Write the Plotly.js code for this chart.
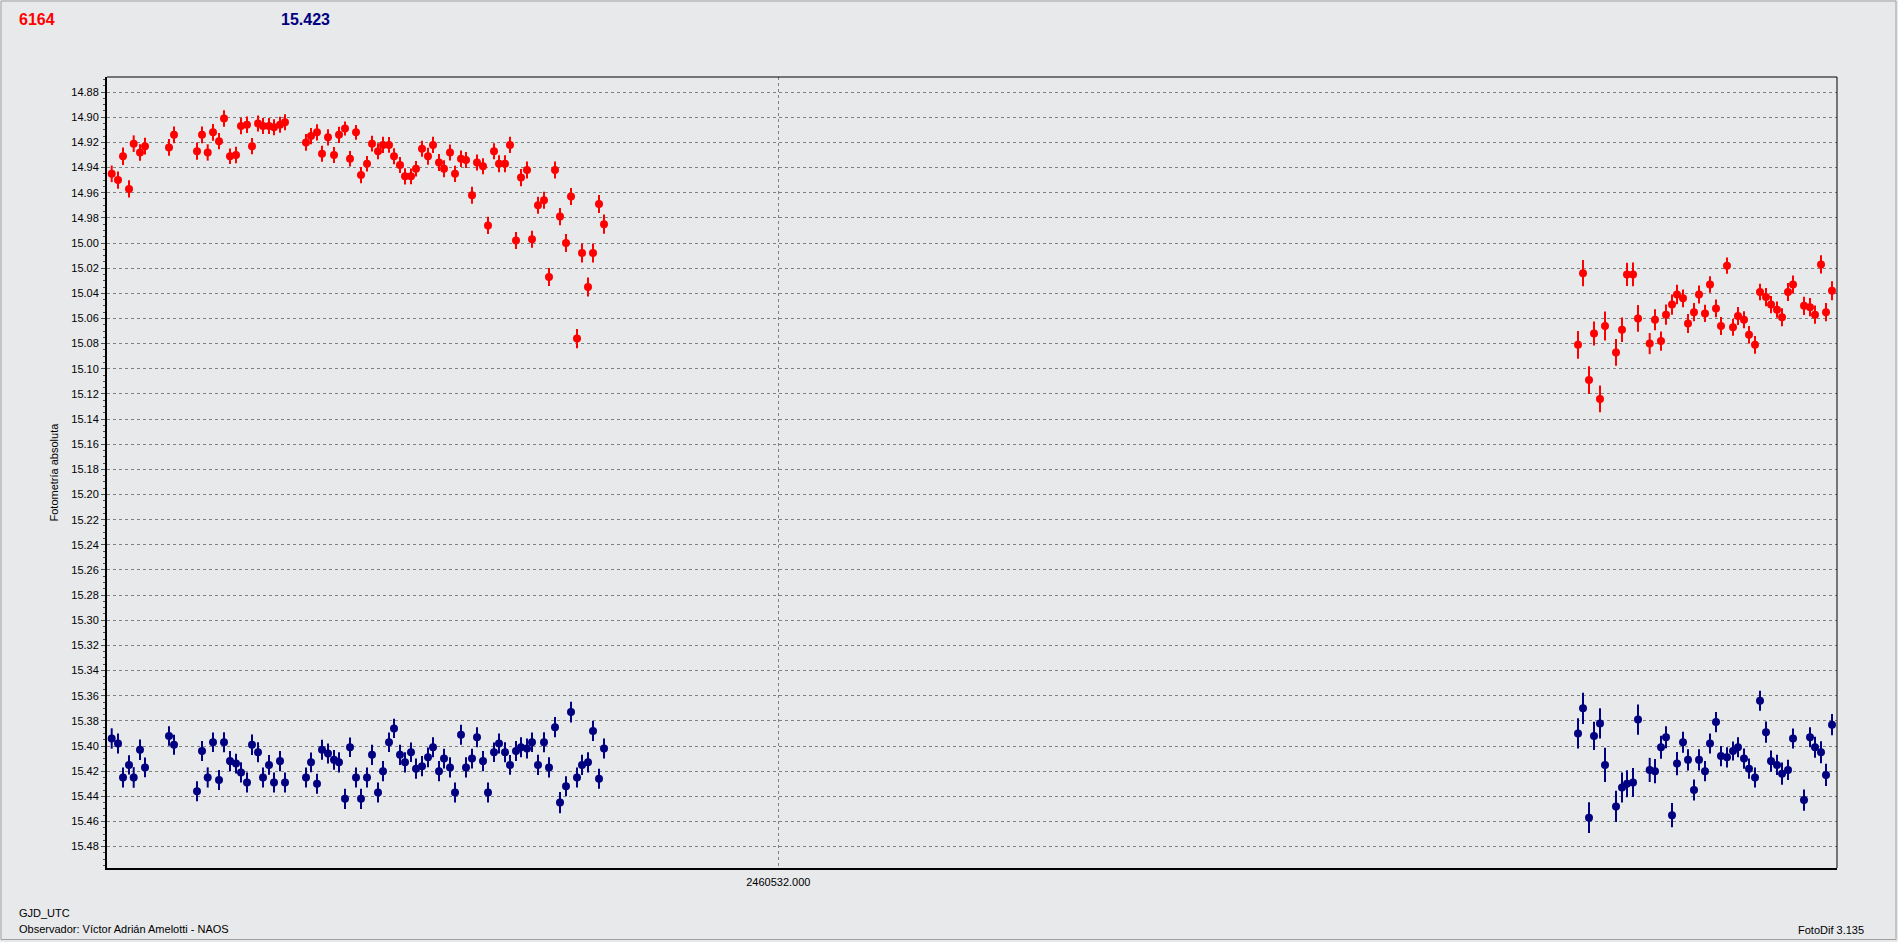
<!DOCTYPE html>
<html>
<head>
<meta charset="utf-8">
<script src="https://cdn.plot.ly/plotly-3.0.1.min.js"></script>
<style>
html,body{margin:0;padding:0;background:#e8e9eb;}
#chart{width:1898px;height:942px;}
</style>
</head>
<body>
<div id="chart"></div>
<script>
// ---- Data (GJD_UTC offsets in days from GJD0, magnitudes) ----
const GJD0 = 2460532.000;

const tNight1 = [-0.13332,-0.13206,-0.13106,-0.12986,-0.12892,-0.12766,-0.12666,-0.12186,-0.12086,-0.11626,
-0.11526,-0.11412,-0.11306,-0.11186,-0.11086,-0.10966,-0.10846,-0.10746,-0.10626,-0.10526,
-0.10406,-0.10306,-0.10186,-0.10086,-0.09966,-0.09866,-0.09446,-0.09346,-0.09226,-0.09126,
-0.09006,-0.08886,-0.08786,-0.08666,-0.08566,-0.08446,-0.08346,-0.08226,-0.08126,-0.08006,
-0.07906,-0.07786,-0.07686,-0.07566,-0.07466,-0.07346,-0.07246,-0.07126,-0.07006,-0.06906,
-0.06786,-0.06686,-0.06566,-0.06466,-0.06346,-0.06246,-0.06126,-0.06026,-0.05906,-0.05806,
-0.05686,-0.05586,-0.05466,-0.05366,-0.05246,-0.05146,-0.05026,-0.04926,-0.04806,-0.04686,
-0.04586,-0.04466,-0.04366,-0.04246,-0.04146,-0.04026,-0.03926,-0.03806,-0.03706,-0.03586,-0.03486];

const tNight2 = [0.15994,0.16094,0.16214,0.16314,0.16434,0.16534,0.16754,0.16874,0.16974,0.17094,
0.17194,0.17428,0.17534,0.17654,0.17754,0.17874,0.17974,0.18094,0.18194,0.18314,
0.18414,0.18534,0.18634,0.18754,0.18854,0.18974,0.19094,0.19194,0.19314,0.19414,
0.19534,0.19634,0.19754,0.19854,0.19974,0.20074,0.20194,0.20294,0.20514,0.20634,
0.20734,0.20854,0.20954,0.21074];

// Variable star (red)
const magVar1 = [14.945,14.950,14.931,14.957,14.921,14.928,14.923,14.924,14.914,14.927,
14.914,14.928,14.912,14.919,14.901,14.931,14.930,14.907,14.906,14.923,
14.905,14.907,14.907,14.908,14.906,14.904,14.920,14.915,14.912,14.929,
14.916,14.930,14.914,14.909,14.933,14.912,14.946,14.937,14.921,14.927,
14.922,14.922,14.931,14.938,14.947,14.947,14.941,14.925,14.931,14.922,
14.936,14.941,14.928,14.945,14.933,14.934,14.962,14.936,14.939,14.986,
14.927,14.937,14.937,14.922,14.998,14.948,14.942,14.997,14.970,14.966,
15.027,14.942,14.979,15.000,14.963,15.076,15.008,15.035,15.008,14.969,14.985];

const magVar2 = [15.081,15.024,15.109,15.072,15.124,15.066,15.087,15.069,15.025,15.025,
15.060,15.080,15.061,15.078,15.057,15.049,15.041,15.044,15.064,15.055,
15.041,15.056,15.033,15.052,15.066,15.018,15.067,15.058,15.061,15.073,
15.081,15.039,15.043,15.049,15.053,15.059,15.039,15.033,15.050,15.051,
15.057,15.017,15.055,15.038];

const errVar1 = [0.0066,0.0069,0.0070,0.0068,0.0066,0.0065,0.0066,0.0066,0.0066,0.0069,
0.0066,0.0065,0.0066,0.0064,0.0066,0.0062,0.0066,0.0066,0.0066,0.0064,
0.0064,0.0064,0.0064,0.0064,0.0064,0.0064,0.0066,0.0064,0.0064,0.0064,
0.0064,0.0064,0.0064,0.0056,0.0062,0.0058,0.0064,0.0062,0.0062,0.0064,
0.0064,0.0062,0.0064,0.0064,0.0064,0.0062,0.0062,0.0064,0.0068,0.0064,
0.0068,0.0068,0.0064,0.0064,0.0066,0.0064,0.0068,0.0064,0.0064,0.0068,
0.0064,0.0068,0.0068,0.0064,0.0068,0.0068,0.0068,0.0068,0.0068,0.0068,
0.0072,0.0068,0.0068,0.0072,0.0068,0.0076,0.0076,0.0076,0.0076,0.0072,0.0076];

const errVar2 = [0.0110,0.0104,0.0110,0.0096,0.0106,0.0115,0.0106,0.0098,0.0092,0.0094,
0.0106,0.0084,0.0084,0.0076,0.0080,0.0080,0.0078,0.0070,0.0075,0.0072,
0.0072,0.0068,0.0066,0.0070,0.0072,0.0065,0.0068,0.0072,0.0068,0.0070,
0.0070,0.0066,0.0072,0.0068,0.0064,0.0072,0.0072,0.0072,0.0072,0.0072,
0.0072,0.0072,0.0072,0.0076];

// Comparison star (navy)
const magComp1 = [15.394,15.398,15.425,15.415,15.425,15.403,15.417,15.392,15.399,15.436,
15.404,15.425,15.397,15.427,15.397,15.412,15.414,15.421,15.429,15.399,
15.405,15.425,15.415,15.429,15.412,15.429,15.425,15.413,15.430,15.403,
15.406,15.411,15.413,15.442,15.401,15.425,15.442,15.425,15.407,15.437,
15.420,15.397,15.386,15.407,15.413,15.405,15.418,15.416,15.409,15.401,
15.420,15.410,15.417,15.437,15.391,15.417,15.410,15.393,15.412,15.437,
15.405,15.398,15.405,15.415,15.404,15.401,15.402,15.397,15.415,15.397,
15.417,15.385,15.445,15.432,15.373,15.425,15.415,15.413,15.388,15.426,15.402];

const magComp2 = [15.390,15.370,15.457,15.392,15.382,15.415,15.448,15.433,15.430,15.429,
15.379,15.419,15.420,15.401,15.393,15.455,15.414,15.397,15.411,15.435,
15.411,15.420,15.398,15.381,15.408,15.409,15.404,15.401,15.410,15.418,
15.425,15.364,15.389,15.412,15.415,15.422,15.419,15.394,15.443,15.393,
15.401,15.405,15.423,15.383];

const errComp1 = [0.0081,0.0080,0.0080,0.0077,0.0082,0.0082,0.0078,0.0078,0.0080,0.0080,
0.0080,0.0080,0.0078,0.0080,0.0080,0.0080,0.0078,0.0080,0.0080,0.0082,
0.0080,0.0080,0.0078,0.0080,0.0080,0.0080,0.0080,0.0078,0.0080,0.0080,
0.0080,0.0078,0.0080,0.0080,0.0078,0.0080,0.0080,0.0080,0.0080,0.0080,
0.0080,0.0078,0.0076,0.0080,0.0080,0.0078,0.0080,0.0080,0.0078,0.0080,
0.0080,0.0078,0.0080,0.0080,0.0080,0.0080,0.0078,0.0080,0.0080,0.0080,
0.0078,0.0080,0.0080,0.0078,0.0080,0.0080,0.0080,0.0078,0.0080,0.0080,
0.0080,0.0080,0.0084,0.0080,0.0082,0.0080,0.0080,0.0080,0.0080,0.0080,0.0080];

const errComp2 = [0.0120,0.0124,0.0122,0.0112,0.0120,0.0136,0.0124,0.0120,0.0108,0.0116,
0.0120,0.0096,0.0096,0.0092,0.0088,0.0096,0.0092,0.0084,0.0084,0.0084,
0.0084,0.0080,0.0080,0.0080,0.0080,0.0080,0.0076,0.0080,0.0080,0.0080,
0.0080,0.0080,0.0084,0.0084,0.0080,0.0088,0.0080,0.0080,0.0084,0.0080,
0.0084,0.0088,0.0088,0.0084];

const yTickVals = [14.88,14.90,14.92,14.94,14.96,14.98,15.00,15.02,15.04,15.06,15.08,15.10,15.12,15.14,15.16,
15.18,15.20,15.22,15.24,15.26,15.28,15.30,15.32,15.34,15.36,15.38,15.40,15.42,15.44,15.46,15.48];
const xTickVals = [2460532.000];

const headerVar = '6164';
const headerComp = '15.423';
const yTitle = 'Fotometría absoluta';
const xTitle = 'GJD_UTC';
const observer = 'Observador: Víctor Adrián Amelotti - NAOS';
const software = 'FotoDif 3.135';

// ---- Build traces ----
const tAll = tNight1.concat(tNight2).map(t => GJD0 + t);

function series(y, err, color) {
  return {
    type: 'scatter', mode: 'markers',
    x: tAll, y: y,
    marker: {color: color, size: 8, symbol: 'circle', line: {width: 0}},
    error_y: {type: 'data', array: err, visible: true, color: color, thickness: 2, width: 0},
    showlegend: false, hoverinfo: 'x+y'
  };
}

const traces = [
  series(magVar1.concat(magVar2), errVar1.concat(errVar2), '#ff0000'),
  series(magComp1.concat(magComp2), errComp1.concat(errComp2), '#000080')
];

// plot area in px: left 107, right 1837, top 77, bottom 868
const L = 107, R = 1837, T = 77, B = 868;
const px = x => (x - L) / (R - L);
const py = y => (B - y) / (B - T);

const font = 'Liberation Sans, Arial, sans-serif';

const layout = {
  width: 1898, height: 942,
  margin: {l: L, r: 1898 - R, t: T, b: 942 - B, pad: 0},
  paper_bgcolor: '#e8e9eb', plot_bgcolor: '#e8e9eb',
  font: {family: font, size: 11, color: '#000'},
  showlegend: false,
  xaxis: {
    range: [GJD0 - 0.13426, GJD0 + 0.21174],
    tickmode: 'array', tickvals: xTickVals, tickformat: '.3f',
    ticks: 'outside', ticklen: 3, tickcolor: 'rgba(0,0,0,0)',
    showgrid: true, gridcolor: '#808080', griddash: '3px,3px', gridwidth: 1,
    showline: true, linecolor: '#000', linewidth: 2,
    zeroline: false, tickfont: {size: 11, family: font}
  },
  yaxis: {
    range: [15.497, 14.868],
    tickmode: 'array', tickvals: yTickVals, tickformat: '.2f',
    ticks: 'outside', ticklen: 4, tickcolor: '#505050', tickwidth: 1,
    showgrid: true, gridcolor: '#808080', griddash: '3px,3px', gridwidth: 1,
    showline: true, linecolor: '#000', linewidth: 2,
    zeroline: false, tickfont: {size: 11, family: font},
    minor: {tickmode: 'linear', tick0: 14.88, dtick: 0.005, ticks: 'outside', ticklen: 2, tickcolor: '#505050', showgrid: false}
  },
  shapes: [
    {type: 'line', xref: 'paper', yref: 'paper', x0: 0, x1: 1, y0: 1, y1: 1, line: {color: '#000', width: 1}},
    {type: 'line', xref: 'paper', yref: 'paper', x0: 1, x1: 1, y0: 0, y1: 1, line: {color: '#000', width: 1}},
    {type: 'rect', xref: 'paper', yref: 'paper', x0: px(1), x1: px(1896), y0: py(1), y1: py(939.5),
     line: {color: '#a0a0a0', width: 1}, fillcolor: 'rgba(0,0,0,0)', layer: 'below'}
  ],
  annotations: [
    {text: '<b>' + headerVar + '</b>', xref: 'paper', yref: 'paper', x: px(17), y: py(19), xanchor: 'left', yanchor: 'middle',
     showarrow: false, font: {family: font, size: 16, color: '#ff0000'}},
    {text: '<b>' + headerComp + '</b>', xref: 'paper', yref: 'paper', x: px(279), y: py(19), xanchor: 'left', yanchor: 'middle',
     showarrow: false, font: {family: font, size: 16, color: '#000080'}},
    {text: yTitle, xref: 'paper', yref: 'paper', x: px(53), y: 0.5, xanchor: 'center', yanchor: 'middle', textangle: -90,
     showarrow: false, font: {family: font, size: 11, color: '#000'}},
    {text: xTitle, xref: 'paper', yref: 'paper', x: px(17), y: py(913), xanchor: 'left', yanchor: 'middle',
     showarrow: false, font: {family: font, size: 11, color: '#000'}},
    {text: observer, xref: 'paper', yref: 'paper', x: px(17), y: py(929), xanchor: 'left', yanchor: 'middle',
     showarrow: false, font: {family: font, size: 11, color: '#000'}},
    {text: software, xref: 'paper', yref: 'paper', x: px(1796), y: py(930), xanchor: 'left', yanchor: 'middle',
     showarrow: false, font: {family: font, size: 11, color: '#000'}}
  ]
};

Plotly.newPlot('chart', traces, layout, {displayModeBar: false, staticPlot: true});
</script>
</body>
</html>
